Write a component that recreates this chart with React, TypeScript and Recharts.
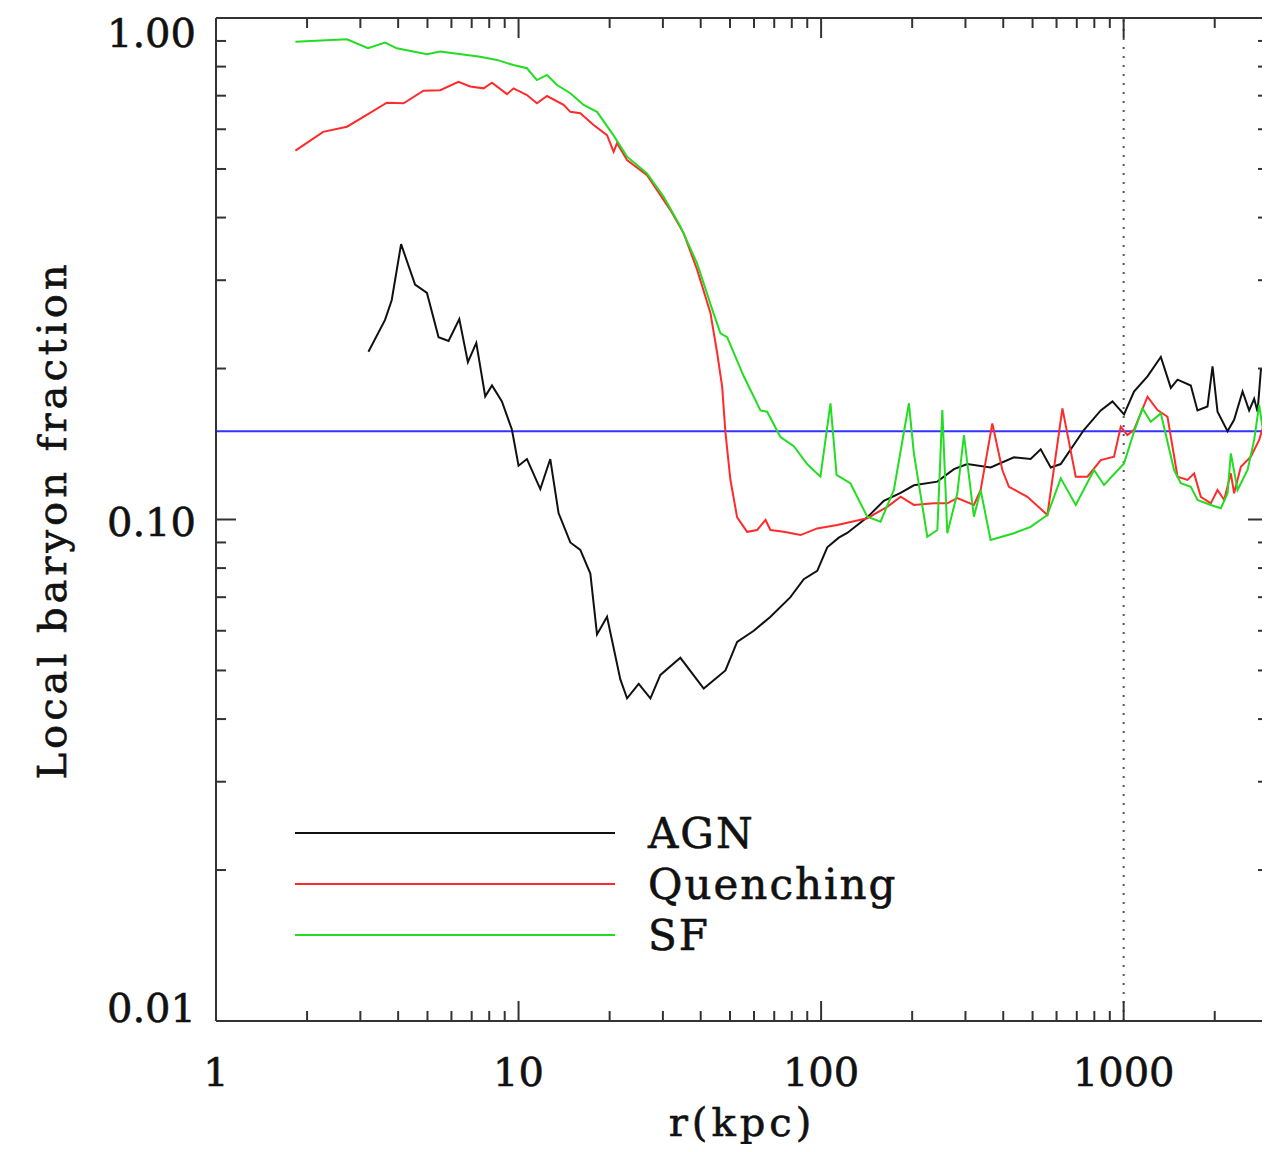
import React from "react";
import { LineChart, Line, XAxis, YAxis, ReferenceLine } from "recharts";

// radius in kpc, local baryon fraction
const agnR = [3.19, 3.62, 3.81, 4.09, 4.55, 4.98, 5.44, 5.87, 6.37, 6.8, 7.25, 7.76, 8.17, 8.81, 9.51, 10.0, 10.66, 11.8, 12.73, 13.56, 14.83, 16.0, 17.27, 18.17, 19.61, 21.7, 22.84, 24.95, 27.28, 29.43, 34.27, 40.93, 48.29, 52.78, 59.9, 68.03, 79.19, 87.64, 97.1, 104.8, 114.4, 122.0, 142.1, 161.2, 183.2, 202.6, 242.2, 274.8, 304.3, 363.3, 433.9, 492.7, 531.9, 574.1, 619.5, 739.6, 840.1, 918.3, 1003, 1082, 1199, 1327, 1432, 1507, 1667, 1754, 1893, 1967, 2043, 2205, 2318, 2472, 2599, 2700, 2771, 2842, 2952];
const agnF = [0.216, 0.25, 0.274, 0.354, 0.294, 0.283, 0.231, 0.227, 0.251, 0.206, 0.225, 0.176, 0.185, 0.172, 0.151, 0.128, 0.132, 0.115, 0.132, 0.103, 0.09, 0.087, 0.078, 0.059, 0.064, 0.048, 0.044, 0.047, 0.044, 0.049, 0.053, 0.046, 0.05, 0.057, 0.06, 0.064, 0.07, 0.076, 0.079, 0.088, 0.092, 0.094, 0.101, 0.109, 0.113, 0.117, 0.119, 0.126, 0.129, 0.127, 0.133, 0.132, 0.138, 0.127, 0.129, 0.151, 0.165, 0.172, 0.162, 0.18, 0.193, 0.211, 0.183, 0.19, 0.185, 0.165, 0.168, 0.202, 0.164, 0.15, 0.158, 0.18, 0.165, 0.174, 0.164, 0.199, 0.199];

const quenchR = [1.83, 2.26, 2.71, 3.15, 3.67, 4.17, 4.85, 5.51, 6.33, 6.92, 7.66, 8.17, 9.16, 9.63, 10.66, 11.5, 12.42, 14.09, 14.83, 16.0, 17.71, 19.61, 20.62, 21.16, 22.84, 26.59, 31.76, 35.15, 38.92, 43.08, 45.33, 47.09, 48.29, 50.15, 52.78, 56.96, 61.46, 65.5, 68.03, 75.27, 85.5, 97.1, 113.1, 142.1, 165.5, 183.2, 202.6, 236.0, 261.3, 282.0, 320.0, 336.8, 368.1, 397.2, 417.7, 480.6, 559.7, 627.5, 694.4, 759.2, 840.1, 929.4, 978.2, 1029, 1082, 1199, 1294, 1396, 1507, 1626, 1710, 1799, 1941, 2043, 2149, 2261, 2318, 2440, 2633, 2805, 2880];
const quenchF = [0.544, 0.593, 0.607, 0.641, 0.678, 0.676, 0.716, 0.718, 0.746, 0.73, 0.724, 0.743, 0.705, 0.724, 0.702, 0.676, 0.699, 0.671, 0.65, 0.646, 0.612, 0.584, 0.541, 0.563, 0.521, 0.486, 0.414, 0.372, 0.315, 0.258, 0.215, 0.184, 0.149, 0.12, 0.101, 0.0945, 0.0953, 0.0998, 0.0953, 0.0945, 0.0931, 0.096, 0.0975, 0.1006, 0.106, 0.111, 0.1069, 0.1077, 0.1077, 0.1103, 0.1069, 0.1145, 0.1555, 0.1255, 0.1162, 0.111, 0.1021, 0.1666, 0.1217, 0.1217, 0.1314, 0.1334, 0.1531, 0.1474, 0.1509, 0.1757, 0.1653, 0.1603, 0.1217, 0.1199, 0.1236, 0.111, 0.1077, 0.1145, 0.1094, 0.1236, 0.1128, 0.1274, 0.1334, 0.1441, 0.152];

const sfR = [1.83, 2.71, 3.18, 3.62, 3.96, 4.98, 5.51, 6.75, 7.47, 8.48, 9.61, 10.66, 11.5, 12.42, 13.4, 14.83, 16.41, 18.17, 20.58, 22.84, 26.59, 30.18, 34.27, 38.92, 44.07, 46.48, 48.92, 55.51, 63.03, 66.33, 73.4, 81.23, 89.95, 99.5, 107.4, 112.5, 125.1, 142.1, 157.2, 174.0, 195.1, 202.6, 224.4, 242.2, 251.6, 261.3, 282.0, 296.5, 320.0, 336.8, 363.3, 433.9, 492.7, 559.7, 619.5, 694.4, 798.2, 861.3, 1003, 1082, 1154, 1229, 1327, 1468, 1545, 1667, 1754, 1941, 2096, 2205, 2261, 2379, 2568, 2700, 2805, 2886];
const sfF = [0.897, 0.907, 0.871, 0.893, 0.87, 0.847, 0.857, 0.844, 0.837, 0.825, 0.806, 0.794, 0.752, 0.77, 0.735, 0.708, 0.671, 0.65, 0.584, 0.529, 0.49, 0.44, 0.384, 0.324, 0.258, 0.235, 0.231, 0.193, 0.165, 0.164, 0.146, 0.14, 0.129, 0.1217, 0.1705, 0.1227, 0.118, 0.1013, 0.099, 0.1145, 0.1705, 0.1355, 0.0924, 0.0953, 0.1653, 0.0939, 0.1128, 0.1474, 0.1013, 0.1145, 0.091, 0.0939, 0.0967, 0.1021, 0.1208, 0.1069, 0.1255, 0.1172, 0.1294, 0.1496, 0.1666, 0.1567, 0.1628, 0.1255, 0.1181, 0.1162, 0.1094, 0.1069, 0.1053, 0.1128, 0.1355, 0.1145, 0.1255, 0.1441, 0.1692, 0.1509];

const seriesNames = ["AGN", "Quenching", "SF"];
const seriesColors = ["#111111", "#ff2a2a", "#22dd22"];

const baryonFraction = 0.15;
const virialRadius = 1000;

const xTicks = [1, 2, 3, 4, 5, 6, 7, 8, 9, 10, 20, 30, 40, 50, 60, 70, 80, 90, 100, 200, 300, 400, 500, 600, 700, 800, 900, 1000, 2000];
const xMajor = [1, 10, 100, 1000];
const yTicks = [0.01, 0.02, 0.03, 0.04, 0.05, 0.06, 0.07, 0.08, 0.09, 0.1, 0.2, 0.3, 0.4, 0.5, 0.6, 0.7, 0.8, 0.9, 1];
const yMajor = [0.01, 0.1, 1];
const yMajorLabels = ["0.01", "0.10", "1.00"];

const toRows = (r: number[], f: number[]) => r.map((v, i) => ({ r: v, f: f[i] }));
const agnData = toRows(agnR, agnF);
const quenchData = toRows(quenchR, quenchF);
const sfData = toRows(sfR, sfF);

const FONT = "'DejaVu Serif', serif";
const AXIS = "#333";
const majorIdx = (v: number, list: number[]) => list.findIndex((m) => Math.abs(v / m - 1) < 1e-6);

const BottomTick = (props: any) => {
  const { x, y, payload } = props;
  const i = majorIdx(payload.value, xMajor);
  return (
    <g>
      <line x1={x} x2={x} y1={y} y2={y - (i >= 0 ? 20 : 10)} stroke={AXIS} strokeWidth={2} />
      {i >= 0 && (
        <text x={x} y={y + 65} textAnchor="middle" fontSize={40} fontFamily={FONT} fill="#111" stroke="#111" strokeWidth={0.6}>
          {String(xMajor[i])}
        </text>
      )}
    </g>
  );
};

const TopTick = (props: any) => {
  const { x, y, payload } = props;
  const i = majorIdx(payload.value, xMajor);
  return <line x1={x} x2={x} y1={y} y2={y + (i >= 0 ? 20 : 10)} stroke={AXIS} strokeWidth={2} />;
};

// IDL puts the end labels inside the frame
const yLabelShift = [1, 16, 29];

const LeftTick = (props: any) => {
  const { x, y, payload } = props;
  const i = majorIdx(payload.value, yMajor);
  return (
    <g>
      <line x1={x} x2={x + (i >= 0 ? 20 : 10)} y1={y} y2={y} stroke={AXIS} strokeWidth={2} />
      {i >= 0 && (
        <text x={x - 20} y={y + yLabelShift[i]} textAnchor="end" fontSize={40} fontFamily={FONT} fill="#111" stroke="#111" strokeWidth={0.6}>
          {yMajorLabels[i]}
        </text>
      )}
    </g>
  );
};

const RightTick = (props: any) => {
  const { x, y, payload } = props;
  const i = majorIdx(payload.value, yMajor);
  return <line x1={x} x2={x - (i >= 0 ? 20 : 10)} y1={y} y2={y} stroke={AXIS} strokeWidth={2} />;
};

const axisLine = { stroke: AXIS, strokeWidth: 2 };

const App = () => {
  const seriesData = [agnData, quenchData, sfData];
  // AGN sits on the top/right axes so the mirrored frame gets drawn; both pairs share one scale
  const xIds = ["t", "b", "b"];
  const yIds = ["r", "l", "l"];
  return (
    <div style={{ position: "relative", width: 1262, height: 1136, background: "#fff", fontFamily: FONT }}>
      <LineChart width={1262} height={1136} margin={{ top: 9, right: 1, left: 0, bottom: 0 }}>
        <XAxis
          xAxisId="b"
          type="number"
          dataKey="r"
          scale="log"
          domain={[1, 3000]}
          allowDataOverflow
          ticks={xTicks}
          interval={0}
          tickSize={0}
          tickMargin={0}
          tickLine={false}
          axisLine={axisLine}
          tick={<BottomTick />}
          height={123}
        />
        <XAxis
          xAxisId="t"
          orientation="top"
          type="number"
          dataKey="r"
          scale="log"
          domain={[1, 3000]}
          allowDataOverflow
          ticks={xTicks}
          interval={0}
          tickSize={0}
          tickMargin={0}
          tickLine={false}
          axisLine={axisLine}
          tick={<TopTick />}
          height={1}
        />
        <YAxis
          yAxisId="l"
          type="number"
          scale="log"
          domain={[0.01, 1]}
          allowDataOverflow
          ticks={yTicks}
          interval={0}
          tickSize={0}
          tickMargin={0}
          tickLine={false}
          axisLine={axisLine}
          tick={<LeftTick />}
          width={208}
        />
        <YAxis
          yAxisId="r"
          orientation="right"
          type="number"
          scale="log"
          domain={[0.01, 1]}
          allowDataOverflow
          ticks={yTicks}
          interval={0}
          tickSize={0}
          tickMargin={0}
          tickLine={false}
          axisLine={axisLine}
          tick={<RightTick />}
          width={1}
        />
        <ReferenceLine xAxisId="b" yAxisId="l" x={virialRadius} stroke="#555" strokeWidth={2} strokeDasharray="2 7" />
        <ReferenceLine xAxisId="b" yAxisId="l" y={baryonFraction} stroke="#3333ff" strokeWidth={2} />
        {seriesNames.map((name, i) => (
          <Line
            key={name}
            name={name}
            data={seriesData[i]}
            xAxisId={xIds[i]}
            yAxisId={yIds[i]}
            dataKey="f"
            type="linear"
            stroke={seriesColors[i]}
            strokeWidth={2}
            dot={false}
            activeDot={false}
            isAnimationActive={false}
          />
        ))}
      </LineChart>
      <svg
        width={1262}
        height={1136}
        style={{ position: "absolute", left: 0, top: 0, pointerEvents: "none", overflow: "visible" }}
      >
        <text
          transform="translate(58,512) rotate(-90)"
          textAnchor="middle"
          fontSize={40}
          letterSpacing={4}
          fontFamily={FONT}
          fill="#111"
          stroke="#111"
          strokeWidth={0.6}
        >
          Local baryon fraction
        </text>
        <text x={734} y={1128} textAnchor="middle" fontSize={40} letterSpacing={4} fontFamily={FONT} fill="#111" stroke="#111" strokeWidth={0.6}>
          r(kpc)
        </text>
        {seriesNames.map((name, i) => (
          <g key={name}>
            <line x1={287} x2={607} y1={825 + i * 51} y2={825 + i * 51} stroke={seriesColors[i]} strokeWidth={2} />
            <text x={640} y={840 + i * 51} fontSize={42} letterSpacing={2} fontFamily={FONT} fill="#111" stroke="#111" strokeWidth={0.6}>
              {name}
            </text>
          </g>
        ))}
      </svg>
    </div>
  );
};

export default App;
